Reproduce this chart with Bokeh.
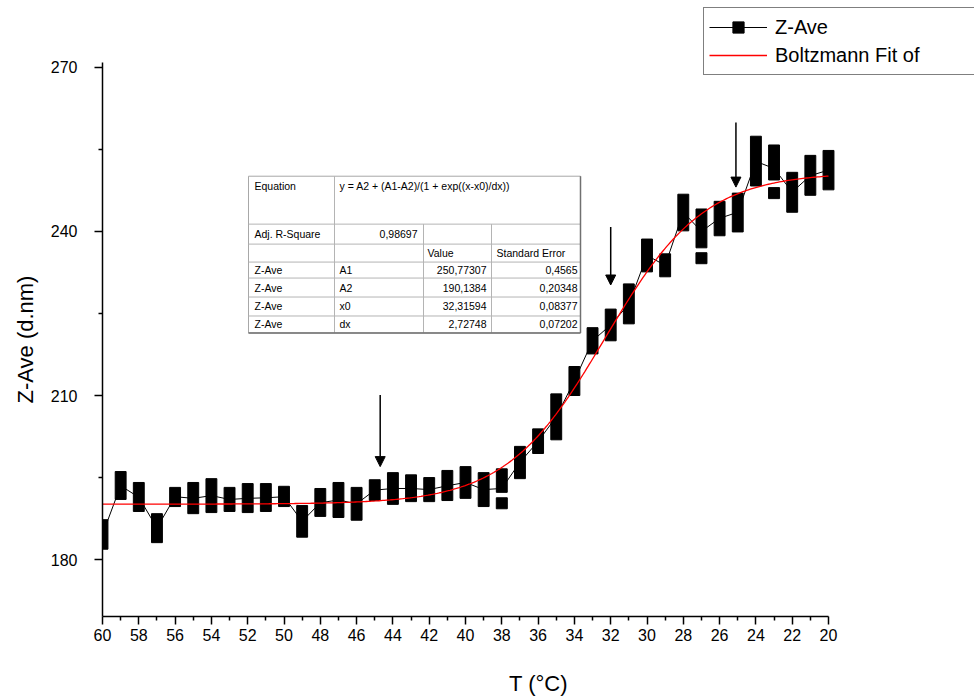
from bokeh.plotting import figure
from bokeh.models import (Range1d, FixedTicker, Label, Arrow, NormalHead, Legend, LegendItem,
                          ColumnDataSource, Title)
from bokeh.embed import file_html
from bokeh.resources import INLINE
import numpy as np

# ---------------- data ----------------
temps = [60, 59, 58, 57, 56, 55, 54, 53, 52, 51, 50, 49, 48, 47, 46, 45, 44, 43, 42, 41,
         40, 39, 38, 37, 36, 35, 34, 33, 32, 31, 30, 29, 28, 27, 26, 25, 24, 23, 22, 21, 20]
z_low = [181.9, 191.0, 188.8, 183.1, 189.7, 188.4, 188.6, 188.8, 188.6, 188.8, 189.7, 184.1,
         187.9, 187.7, 187.2, 190.8, 190.1, 190.6, 190.6, 190.8, 191.2, 189.7, 192.3, 194.8,
         199.4, 201.9, 210.0, 217.6, 220.0, 223.1, 232.6, 231.7, 240.1, 237.0, 239.2, 239.9,
         248.3, 249.4, 243.5, 246.6, 247.6]
z_high = [187.3, 196.1, 194.1, 188.4, 193.2, 194.1, 194.8, 193.2, 193.9, 193.9, 193.4, 189.9,
          193.0, 194.1, 193.2, 194.6, 195.9, 195.5, 195.0, 196.3, 197.0, 195.9, 196.6, 200.7,
          203.9, 210.3, 215.3, 222.4, 225.8, 230.4, 238.6, 235.9, 246.8, 244.1, 245.5, 247.0,
          257.4, 255.8, 250.8, 253.9, 254.8]
z_mean = [184.6, 193.5, 191.4, 185.8, 191.5, 191.2, 191.7, 191.0, 191.2, 191.3, 191.5, 187.0,
          190.4, 190.9, 190.2, 192.7, 193.0, 193.0, 192.8, 193.5, 194.1, 192.8, 193.0, 197.8,
          201.6, 206.1, 212.7, 220.0, 222.9, 226.7, 235.6, 233.8, 243.5, 240.0, 242.4, 243.5,
          252.8, 251.5, 247.2, 250.2, 251.2]
extra_T = [38, 27, 23]
extra_z = [190.3, 235.1, 247.0]

# Boltzmann fit parameters (from the fit table)
A1, A2, x0, dx = 250.77307, 190.1384, 32.31594, 2.72748
fit_T = np.linspace(60, 20, 400)
fit_z = A2 + (A1 - A2) / (1 + np.exp((fit_T - x0) / dx))

arrow_T = [44.7, 32.0, 25.1]
arrow_top = [210.1, 240.8, 259.9]
arrow_tip = [197.0, 230.2, 248.1]

x_major = list(range(20, 61, 2))
x_minor = list(range(21, 60, 2))
y_major = [180, 210, 240, 270]
y_minor = [195, 225, 255]

table_rows = [
    ("Z-Ave", "A1", "250,77307", "0,4565"),
    ("Z-Ave", "A2", "190,1384", "0,20348"),
    ("Z-Ave", "x0", "32,31594", "0,08377"),
    ("Z-Ave", "dx", "2,72748", "0,07202"),
]

FONT = "Liberation Sans"
W, H = 974, 698
AX_L, AX_B = 102, 617          # axis positions on page (px)
XA0, XA1 = 60, 20              # x axis extent
YA0, YA1 = 169.6, 270.9        # y axis extent
PX_PER_T = 18.15
PX_PER_Y = 5.479

def tx(px):
    return XA0 - (px - AX_L) / PX_PER_T

def ty(py):
    return YA0 + (AX_B - py) / PX_PER_Y

p = figure(width=W, height=H, output_backend="svg", toolbar_location=None, title=None,
           x_range=Range1d(XA0, tx(W)), y_range=Range1d(YA0, ty(0)),
           min_border_left=AX_L, min_border_top=0, min_border_right=0,
           min_border_bottom=H - AX_B)
p.outline_line_color = None
p.xgrid.visible = False
p.ygrid.visible = False
p.background_fill_color = "white"

# axes
for ax in (p.xaxis[0], p.yaxis[0]):
    ax.axis_line_color = "black"
    ax.axis_line_width = 1.5
    ax.major_tick_line_color = "black"
    ax.minor_tick_line_color = "black"
    ax.major_tick_line_width = 1.5
    ax.minor_tick_line_width = 1.5
    ax.major_tick_in = 0
    ax.minor_tick_in = 0
    ax.major_tick_out = 8
    ax.minor_tick_out = 4
    ax.major_label_text_font = FONT
    ax.major_label_text_font_size = "16px"
    ax.major_label_text_color = "black"
    ax.axis_label_text_font = FONT
    ax.axis_label_text_font_size = "22px"
    ax.axis_label_text_font_style = "normal"
    ax.axis_label_text_color = "black"

p.xaxis.ticker = FixedTicker(ticks=x_major, minor_ticks=x_minor)
p.yaxis.ticker = FixedTicker(ticks=y_major, minor_ticks=y_minor)
p.xaxis.bounds = (XA1, XA0)
p.yaxis.bounds = (YA0, YA1)
p.xaxis.axis_label = "T (°C)"
p.xaxis.major_label_standoff = 4
p.yaxis.major_label_standoff = 17
p.xaxis.axis_label_standoff = 27

# y axis title, positioned along the axis extent rather than the whole frame
ytitle = Title(text="Z-Ave (d.nm)", align="left", offset=213, standoff=20,
               text_font=FONT, text_font_size="22px", text_font_style="normal",
               text_color="black")
p.add_layout(ytitle, "left")

# data
src = ColumnDataSource(dict(T=temps, low=z_low, high=z_high, mean=z_mean))
line_r = p.line("T", "mean", source=src, line_color="black", line_width=1)
p.vbar(x="T", top="high", bottom="low", width=0.6, source=src,
       fill_color="black", line_color="black")
sq_r = p.scatter(extra_T, extra_z, marker="square", size=11, fill_color="black",
                 line_color="black")
fit_r = p.line(fit_T, fit_z, line_color="red", line_width=1.3)

# arrows
for t, a, b in zip(arrow_T, arrow_top, arrow_tip):
    p.add_layout(Arrow(end=NormalHead(size=10, fill_color="black", line_color="black"),
                       x_start=t, y_start=a, x_end=t, y_end=b,
                       line_color="black", line_width=1.5))

# table
cols = [248, 334, 423, 491, 580]
rows = [176, 224, 244, 262, 278, 297, 316, 333]
sx0, sy0, sx1, sy1 = [], [], [], []
for r in rows[1:-1]:
    sx0.append(tx(cols[0])); sx1.append(tx(cols[-1])); sy0.append(ty(r)); sy1.append(ty(r))
sx0.append(tx(cols[1])); sx1.append(tx(cols[1])); sy0.append(ty(rows[0])); sy1.append(ty(rows[-1]))
for c in cols[2:4]:
    sx0.append(tx(c)); sx1.append(tx(c)); sy0.append(ty(rows[1])); sy1.append(ty(rows[-1]))
p.quad(left=tx(cols[0]), right=tx(cols[-1]), top=ty(rows[0]), bottom=ty(rows[-1]),
       fill_color="white", line_color="#a8a8a8", line_width=1)
p.segment(sx0, sy0, sx1, sy1, line_color="#b4b4b4", line_width=1)
p.segment([tx(cols[0]), tx(cols[-1])], [ty(rows[-1]), ty(rows[0])],
          [tx(cols[-1]), tx(cols[-1])], [ty(rows[-1]), ty(rows[-1])],
          line_color="#707070", line_width=1.5)

def lab(text, px, py, align="left"):
    p.add_layout(Label(x=tx(px), y=ty(py), text=text, text_font=FONT, text_font_size="10.5px",
                       text_baseline="middle", text_align=align, text_color="black"))

lab("Equation", 254, 186)
lab("y = A2 + (A1-A2)/(1 + exp((x-x0)/dx))", 339, 186)
lab("Adj. R-Square", 254, 234)
lab("0,98697", 417, 234, "right")
lab("Value", 427, 253)
lab("Standard Error", 496, 253)
for i, (a, b, c, d) in enumerate(table_rows):
    yy = [270, 288, 306, 324][i]
    lab(a, 254, yy)
    lab(b, 339, yy)
    lab(c, 486, yy, "right")
    lab(d, 577, yy, "right")

# legend (frame extends to the canvas edge, so the legend sits inside it)
legend = Legend(items=[LegendItem(label="Z-Ave", renderers=[line_r, sq_r]),
                       LegendItem(label="Boltzmann Fit of", renderers=[fit_r])],
                location=(703 - AX_L, AX_B - 76), orientation="vertical",
                label_text_font=FONT, label_text_font_size="20px", label_text_color="black",
                glyph_width=58, glyph_height=28, label_height=28, label_width=210,
                label_standoff=8, padding=5, spacing=0, margin=0,
                border_line_color="black", border_line_width=1,
                background_fill_color="white", background_fill_alpha=1)
p.add_layout(legend, "center")

open("out.html", "w").write(file_html(p, INLINE))
